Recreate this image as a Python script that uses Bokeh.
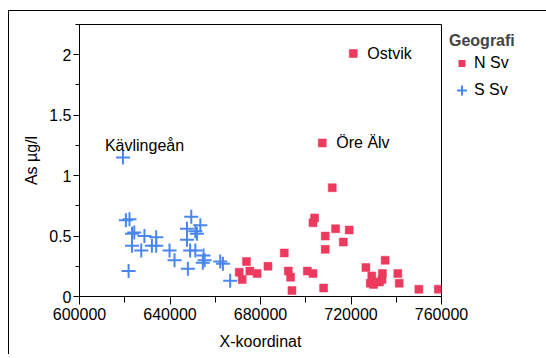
from bokeh.plotting import figure
from bokeh.models import (Range1d, FixedTicker, Legend, LegendItem, NumeralTickFormatter)
from bokeh.core.properties import value
from bokeh.embed import file_html
from bokeh.resources import INLINE

# ---- data ----
n_x = [671900, 670600, 673800, 675300, 678500, 683300, 690500, 692300, 693300, 693900,
       700700, 703200, 703200, 703900, 707900, 708600, 708600, 707300, 711700, 713200,
       716600, 719200, 721000, 726600, 728500, 730000, 729200, 732600, 733700, 733900,
       735100, 740700, 741300, 750000, 758600]
n_y = [0.14, 0.20, 0.29, 0.21, 0.19, 0.25, 0.36, 0.21, 0.16, 0.05,
       0.21, 0.19, 0.61, 0.65, 0.07, 0.50, 0.39, 1.27, 0.90, 0.56,
       0.45, 0.55, 2.01, 0.24, 0.11, 0.10, 0.17, 0.12, 0.14, 0.19,
       0.30, 0.19, 0.11, 0.06, 0.06]
s_x = [619200, 620500, 622100, 621700, 623200, 624200, 623200, 627300, 628700, 632000,
       633900, 633900, 639800, 642000, 647900, 649400, 647500, 651200, 651900, 653400,
       647500, 648900, 651200, 654800, 655300, 654500, 662200, 663400, 666600]
s_y = [1.15, 0.63, 0.64, 0.21, 0.52, 0.53, 0.42, 0.38, 0.50, 0.42,
       0.42, 0.49, 0.38, 0.30, 0.23, 0.66, 0.56, 0.54, 0.52, 0.59,
       0.47, 0.38, 0.38, 0.34, 0.30, 0.28, 0.29, 0.27, 0.13]
series_names = ["N Sv", "S Sv"]
legend_title = "Geografi"
label_names = ["Ostvik", "Öre Älv", "Kävlingeån"]
label_x = [721000, 707300, 619200]
label_y = [2.01, 1.27, 1.15]
x_ticks = [600000, 640000, 680000, 720000, 760000]
x_minor = [620000, 660000, 700000, 740000]
y_ticks = [0, 0.5, 1, 1.5, 2]
y_tick_labels = ["0", "0.5", "1", "1.5", "2"]
y_minor = [0.25, 0.75, 1.25, 1.75, 2.25]

FONT = "Liberation Sans"
RED = "#ec3a5e"
BLUE = "#4a86ec"

p = figure(frame_width=362, frame_height=272, output_backend="svg", toolbar_location=None,
           x_range=Range1d(600000, 760000), y_range=Range1d(0, 2.25),
           min_border_left=70, min_border_right=104, min_border_top=13, min_border_bottom=58,
           styles={"border-left": "1px solid black", "border-top": "1px solid black"})
p.margin = (10, 0, 0, 8)
p.xgrid.visible = False
p.ygrid.visible = False
p.outline_line_color = "black"
p.outline_line_width = 1
p.background_fill_color = "white"
p.border_fill_color = "white"
# range used only by the legend key glyph (its points fall outside the frame)
p.extra_y_ranges = {"key": Range1d(100, 101)}

r_n = p.scatter(n_x, n_y, marker="square", size=8, fill_color=RED, line_color=RED, line_width=0.5)
r_s = p.scatter(s_x, s_y, marker="cross", size=14, line_color=BLUE, line_width=2)
# legend-only glyph for N Sv: white rim keeps the swatch small
r_n_key = p.scatter(n_x, n_y, marker="square", size=10, fill_color=RED, line_color="white",
                    line_width=3, y_range_name="key")

# labels
p.text([label_x[0]], [label_y[0]], text=[label_names[0]], x_offset=14, text_baseline="middle",
       text_align="left", text_font=value(FONT), text_font_size="16px", text_color="black")
p.text([label_x[1]], [label_y[1]], text=[label_names[1]], x_offset=14, text_baseline="middle",
       text_align="left", text_font=value(FONT), text_font_size="16px", text_color="black")
p.text([label_x[2]], [label_y[2]], text=[label_names[2]], x_offset=-18, y_offset=-12,
       text_baseline="alphabetic", text_align="left", text_font=value(FONT),
       text_font_size="16px", text_color="black")

# axes
for ax in (p.xaxis[0], p.yaxis[0]):
    ax.axis_line_color = "black"
    ax.major_tick_line_color = "black"
    ax.minor_tick_line_color = "black"
    ax.major_tick_in = 0
    ax.minor_tick_in = 0
    ax.major_label_text_font = FONT
    ax.major_label_text_font_size = "16px"
    ax.major_label_text_color = "black"
    ax.axis_label_text_font = FONT
    ax.axis_label_text_font_size = "16px"
    ax.axis_label_text_font_style = "normal"
    ax.axis_label_text_color = "black"

p.xaxis.ticker = FixedTicker(ticks=x_ticks, minor_ticks=x_minor)
p.xaxis.formatter = NumeralTickFormatter(format="0")
p.xaxis.major_tick_out = 8
p.xaxis.minor_tick_out = 6
p.xaxis.major_label_standoff = 3
p.xaxis.axis_label = "X-koordinat"
p.xaxis.axis_label_standoff = 10

p.yaxis.ticker = FixedTicker(ticks=y_ticks, minor_ticks=y_minor)
p.yaxis.major_label_overrides = {t: l for t, l in zip(y_ticks, y_tick_labels)}
p.yaxis.major_tick_out = 6
p.yaxis.minor_tick_out = 4
p.yaxis.major_label_standoff = 2
p.yaxis.axis_label = "As µg/l"
p.yaxis.axis_label_standoff = 6

legend = Legend(items=[LegendItem(label=series_names[0], renderers=[r_n_key]),
                       LegendItem(label=series_names[1], renderers=[r_s])],
                title=legend_title, location="top_left")
legend.title_text_font = FONT
legend.title_text_font_size = "16px"
legend.title_text_font_style = "bold"
legend.label_text_font = FONT
legend.label_text_font_size = "16px"
legend.label_text_color = "black"
legend.border_line_alpha = 0
legend.background_fill_alpha = 0
legend.margin = 0
legend.padding = 8
legend.glyph_width = 25
legend.glyph_height = 26
legend.spacing = 1
legend.label_standoff = 0
legend.title_standoff = 0
p.add_layout(legend, "right")

open("out.html", "w").write(file_html(p, INLINE))
